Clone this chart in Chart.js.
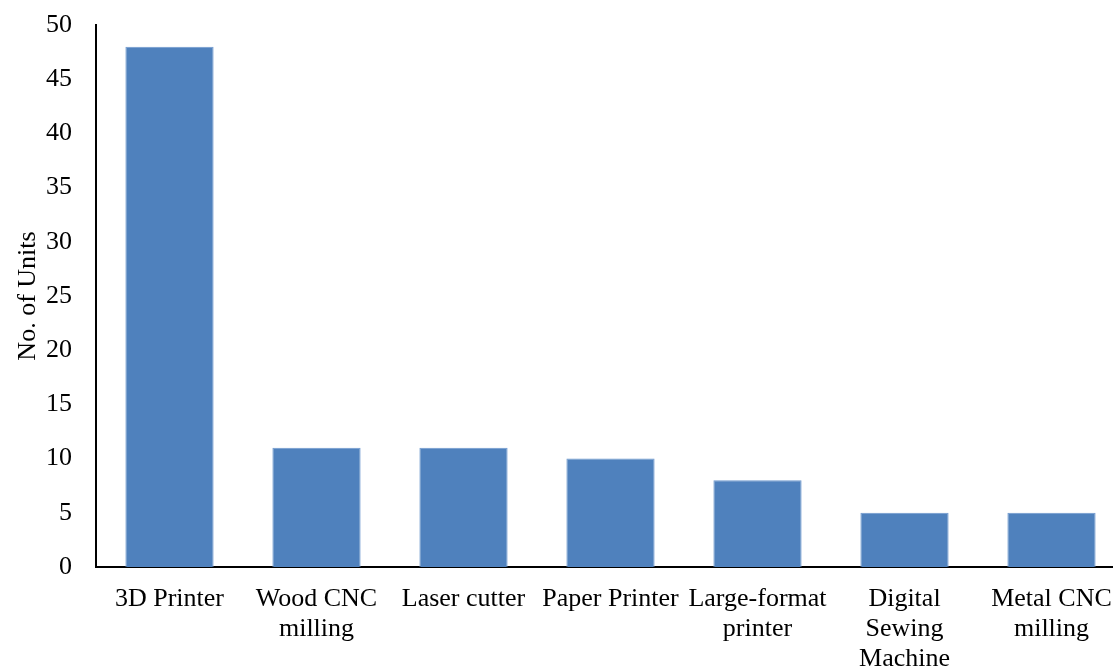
<!DOCTYPE html>
<html>
<head>
<meta charset="utf-8">
<script src="https://cdn.jsdelivr.net/npm/chart.js@4/dist/chart.umd.min.js"></script>
<style>
html,body{margin:0;padding:0;background:#fff;overflow:hidden;}
#wrap{width:1113px;height:668px;position:relative;overflow:hidden;}
</style>
</head>
<body>
<div id="wrap"><canvas id="c" width="1125" height="668"></canvas></div>
<script>
const categories = [
  ["3D Printer"],
  ["Wood CNC", "milling"],
  ["Laser cutter"],
  ["Paper Printer"],
  ["Large-format", "printer"],
  ["Digital", "Sewing", "Machine"],
  ["Metal CNC", "milling"]
];
const units = [48, 11, 11, 10, 8, 5, 5];
const yTitle = "No. of Units";

const font = {family: "'Liberation Serif', 'Times New Roman', serif", size: 26, lineHeight: 1.15};

new Chart(document.getElementById('c'), {
  type: 'bar',
  data: {
    labels: categories,
    datasets: [{
      data: units,
      backgroundColor: '#4F81BD',
      borderColor: '#6E98CE',
      borderWidth: 1,
      categoryPercentage: 1,
      barPercentage: 0.6
    }]
  },
  options: {
    responsive: false,
    animation: false,
    layout: {padding: {top: 25, right: 0, left: 0, bottom: 0}},
    plugins: {legend: {display: false}, tooltip: {enabled: false}},
    scales: {
      x: {
        grid: {display: false, drawTicks: false},
        border: {display: true, color: '#000', width: 2},
        ticks: {
          color: '#000', font: font, autoSkip: false, maxRotation: 0, minRotation: 0,
          padding: 17
        },
        afterFit: (s) => { s.height = 101; s.paddingLeft = 0; s.paddingRight = 0; }
      },
      y: {
        min: 0, max: 50,
        grid: {display: false, drawTicks: false},
        border: {display: true, color: '#000', width: 2},
        ticks: {color: '#000', font: font, stepSize: 5, padding: 24},
        title: {display: true, text: yTitle, color: '#000', font: font, padding: {top: 13, bottom: 0}},
        afterFit: (s) => { s.width = 96; s.paddingTop = 0; s.paddingBottom = 0; }
      }
    }
  }
});
</script>
</body>
</html>
